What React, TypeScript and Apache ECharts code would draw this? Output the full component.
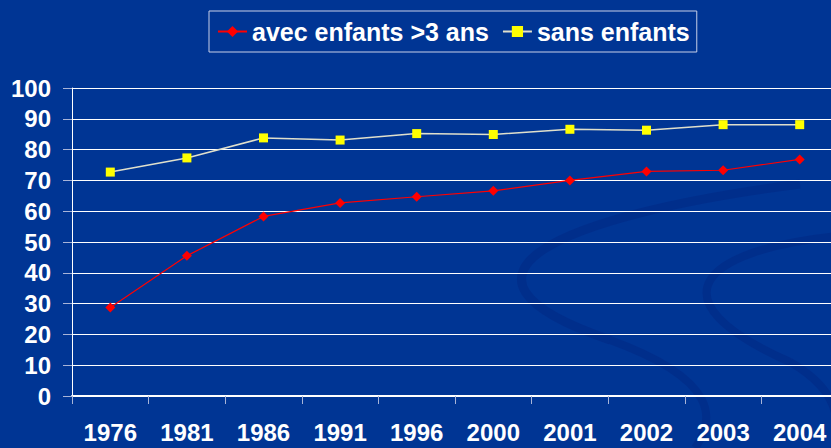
import React, { useEffect, useRef } from "react";
import * as echarts from "echarts";

const categories = ["1976", "1981", "1986", "1991", "1996", "2000", "2001", "2002", "2003", "2004"];
const avecEnfants = [28.7, 45.5, 58.3, 62.7, 64.7, 66.6, 70.0, 72.9, 73.3, 76.8];
const sansEnfants = [72.7, 77.3, 83.8, 83.1, 85.2, 84.9, 86.6, 86.3, 88.1, 88.1];
const seriesNames = ["avec enfants >3 ans", "sans enfants"];

export default function App() {
  const ref = useRef<HTMLDivElement>(null);
  useEffect(() => {
    if (!ref.current) return;
    const chart = echarts.init(ref.current, undefined, { renderer: "svg" });
    const font = "'Liberation Sans', Arial, sans-serif";
    const swirl = "rgba(0,25,110,0.22)";
    chart.setOption({
      animation: false,
      backgroundColor: "#003594",
      textStyle: { fontFamily: font },
      graphic: [
        {
          type: "bezierCurve",
          z: -100,
          silent: true,
          shape: { x1: 800, y1: 184, cpx1: 560, cpy1: 215, cpx2: 420, cpy2: 275, x2: 610, y2: 340 },
          style: { stroke: swirl, lineWidth: 9, fill: null },
        },
        {
          type: "bezierCurve",
          z: -100,
          silent: true,
          shape: { x1: 610, y1: 340, cpx1: 720, cpy1: 380, cpx2: 715, cpy2: 420, x2: 695, y2: 448 },
          style: { stroke: swirl, lineWidth: 8, fill: null },
        },
        {
          type: "bezierCurve",
          z: -100,
          silent: true,
          shape: { x1: 838, y1: 236, cpx1: 700, cpy1: 250, cpx2: 650, cpy2: 300, x2: 790, y2: 362 },
          style: { stroke: swirl, lineWidth: 8, fill: null },
        },
        {
          type: "bezierCurve",
          z: -100,
          silent: true,
          shape: { x1: 790, y1: 362, cpx1: 830, cpy1: 385, cpx2: 838, cpy2: 410, x2: 836, y2: 430 },
          style: { stroke: swirl, lineWidth: 8, fill: null },
        },
      ],
      legend: {
        left: 209,
        top: 11,
        padding: [8, 7, 8, 8],
        itemGap: 13,
        itemWidth: 29,
        itemHeight: 14,
        borderColor: "#c8d0e8",
        borderWidth: 1,
        textStyle: { color: "#ffffff", fontSize: 25, fontWeight: "bold", fontFamily: font },
        data: seriesNames,
      },
      grid: { left: 72, top: 88, height: 308, width: 766, containLabel: false },
      xAxis: {
        type: "category",
        data: categories,
        boundaryGap: true,
        axisLine: { lineStyle: { color: "#ffffff", width: 2 } },
        axisTick: { show: true, length: 8, lineStyle: { color: "#a8b4d8" } },
        axisLabel: { color: "#ffffff", fontSize: 24, fontWeight: "bold", margin: 24, fontFamily: font, interval: 0 },
        splitLine: { show: false },
      },
      yAxis: {
        type: "value",
        min: 0,
        max: 100,
        interval: 10,
        axisLine: { show: true, lineStyle: { color: "#ffffff", width: 1 } },
        axisTick: { show: true, length: 9, lineStyle: { color: "#a8b4d8" } },
        axisLabel: { color: "#ffffff", fontSize: 24, fontWeight: "bold", margin: 21, fontFamily: font },
        splitLine: { lineStyle: { color: "#ffffff", width: 1 } },
      },
      series: [
        {
          name: seriesNames[0],
          type: "line",
          data: avecEnfants,
          symbol: "diamond",
          symbolSize: 10,
          itemStyle: { color: "#ff0000" },
          lineStyle: { color: "#ff0000", width: 1.2 },
        },
        {
          name: seriesNames[1],
          type: "line",
          data: sansEnfants,
          symbol: "rect",
          symbolSize: 9,
          itemStyle: { color: "#ffff00" },
          lineStyle: { color: "#e0e0cc", width: 1.5 },
        },
      ],
    });
    return () => chart.dispose();
  }, []);
  return (
    <div style={{ width: 831, height: 448, position: "absolute", left: 0, top: 0, overflow: "hidden" }}>
      <div ref={ref} style={{ width: 838, height: 448 }} />
    </div>
  );
}
